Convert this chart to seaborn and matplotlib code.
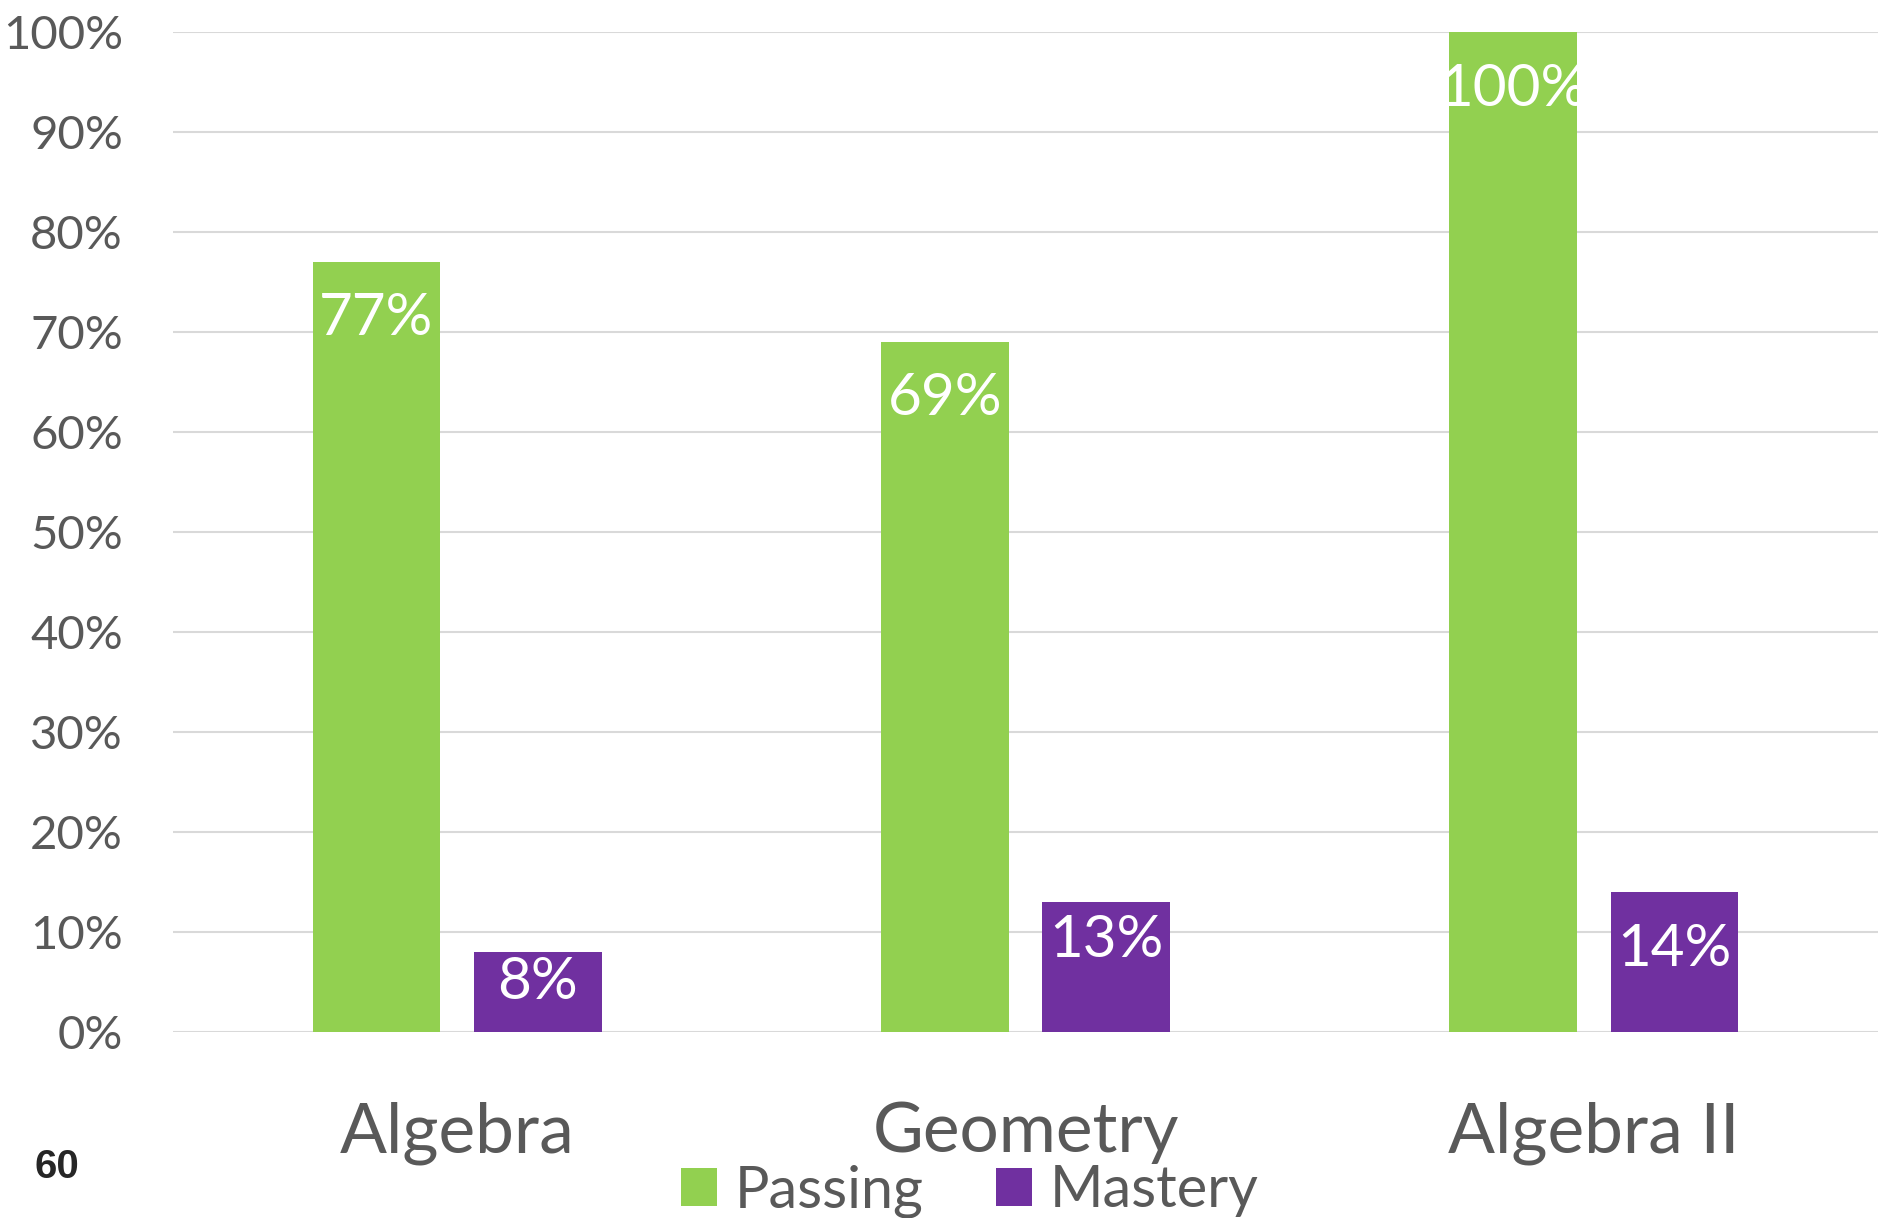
import pandas as pd
import seaborn as sns
import matplotlib.pyplot as plt
from matplotlib.ticker import FuncFormatter

# data
subjects = ["Algebra", "Geometry", "Algebra II"]
series = ["Passing", "Mastery"]
passing = [0.77, 0.69, 1.00]
mastery = [0.08, 0.13, 0.14]

green = "#92D050"
purple = "#7030A0"
gray = "#595959"

df = pd.DataFrame({
    "Subject": subjects * 2,
    "Rate": passing + mastery,
    "Group": [series[0]] * len(subjects) + [series[1]] * len(subjects),
})

sns.set_theme(style="white")
plt.rcParams["font.family"] = ["Lato", "DejaVu Sans"]

W, H = 1878, 1218
fig = plt.figure(figsize=(W / 100, H / 100), dpi=100)
ax = fig.add_axes([173 / W, 186 / H, 1705 / W, 1000 / H])

sns.barplot(data=df, x="Subject", y="Rate", hue="Group", hue_order=series,
            palette=[green, purple], width=0.568, gap=0.208, saturation=1,
            errorbar=None, linewidth=0, ax=ax)

handles, labels = ax.get_legend_handles_labels()
if ax.get_legend() is not None:
    ax.get_legend().remove()

ax.set_xlim(-0.5, 2.5)
ax.set_ylim(0, 1.0)
ax.set_yticks([i / 10 for i in range(11)])
ax.yaxis.set_major_formatter(FuncFormatter(lambda v, _: f"{v:.0%}"))
ax.set_xlabel("")
ax.set_ylabel("")
for s in ax.spines.values():
    s.set_visible(False)
ax.yaxis.grid(True, color="#D9D9D9", linewidth=1.5)
ax.set_axisbelow(True)
ax.tick_params(axis="y", length=0, pad=36, labelsize=34, labelcolor=gray)
ax.tick_params(axis="x", length=0, pad=50, labelsize=50, labelcolor=gray)

# value labels inside the top of each bar (drop in pixels to baseline)
drops = {"Passing": [73, 73, 74], "Mastery": [47, 55, 74]}
for name, cont in zip(series, ax.containers):
    for bar, d in zip(cont, drops[name]):
        h = bar.get_height()
        ax.annotate(f"{h:.0%}", (bar.get_x() + bar.get_width() / 2, h),
                    xytext=(0, -d * 0.72), textcoords="offset points",
                    ha="center", va="baseline", fontsize=42, color="white")

fig.legend(handles, labels, loc="center", bbox_to_anchor=(0.5165, 0.022),
           ncol=2, frameon=False, fontsize=41.5, labelcolor=gray,
           handlelength=0.62, handleheight=0.62, handletextpad=0.31,
           columnspacing=1.25, borderpad=0)

fig.text(34 / W, 40 / H, "60", fontsize=29, fontweight="bold",
         family="Liberation Sans", color="#262626", va="baseline")

fig.savefig("out.png", dpi=100)
